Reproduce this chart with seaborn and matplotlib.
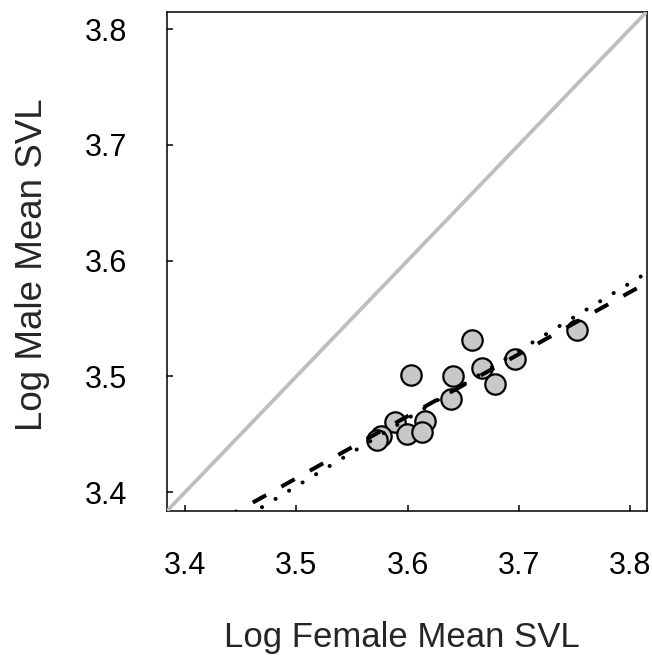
import matplotlib
matplotlib.use('Agg')
import matplotlib.pyplot as plt
import seaborn as sns
import numpy as np
import pandas as pd

# Data
female = [3.7527, 3.6580, 3.6027, 3.6970, 3.6670, 3.6410, 3.6790, 3.6386,
          3.5889, 3.6155, 3.5996, 3.6129, 3.5760, 3.5721]
male = [3.5397, 3.5316, 3.5015, 3.5150, 3.5072, 3.5000, 3.4937, 3.4805,
        3.4610, 3.4612, 3.4503, 3.4517, 3.4489, 3.4454]
ticks = [3.4, 3.5, 3.6, 3.7, 3.8]
tick_labels = ['3.4', '3.5', '3.6', '3.7', '3.8']
fit_slopes = [0.536, 0.585]
fit_intercepts = [1.536, 1.3576]
axis_limits = [3.384, 3.815]

sns.set_style('ticks')
plt.rcParams['font.family'] = ['Liberation Sans', 'DejaVu Sans']
plt.rcParams['lines.scale_dashes'] = False

fig = plt.figure(figsize=(6.52, 6.64), dpi=100)
ax = fig.add_axes([0.2566, 0.2309, 0.7353, 0.7515])

df = pd.DataFrame({'female': female, 'male': male})
sns.scatterplot(data=df, x='female', y='male', s=215, color='#C8C8C8',
                edgecolor='black', linewidth=1.6, ax=ax, zorder=2, legend=False)

line_x = np.array(axis_limits)
sns.lineplot(x=line_x, y=line_x, color='#BEBEBE', lw=2.7, ax=ax, zorder=3)

# dashed fit
sns.lineplot(x=line_x, y=fit_intercepts[0] + fit_slopes[0] * line_x, color='black',
             lw=2.9, linestyle=(0, (11, 12.5)), ax=ax, zorder=4)
# dotted fit
sns.lineplot(x=line_x, y=fit_intercepts[1] + fit_slopes[1] * line_x, color='black',
             lw=2.9, linestyle=(0, (0.1, 11.3)), ax=ax, zorder=4)
ax.lines[-1].set_dash_capstyle('round')

ax.set_xlim(axis_limits)
ax.set_ylim(axis_limits)
ax.set_xticks(ticks)
ax.set_xticklabels(tick_labels)
ax.set_yticks(ticks)
ax.set_yticklabels(tick_labels)

for sp in ax.spines.values():
    sp.set_visible(True)
    sp.set_color('black')
    sp.set_linewidth(1.1)

ax.tick_params(axis='both', direction='in', length=4.3, width=1.1, labelsize=22,
               colors='black')
ax.tick_params(axis='y', pad=29)
ax.tick_params(axis='x', pad=29)

ax.set_xlabel('Log Female Mean SVL', fontsize=25)
ax.set_ylabel('Log Male Mean SVL', fontsize=26.5)
ax.xaxis.set_label_coords(0.4896, -0.222)
ax.yaxis.set_label_coords(-0.244, 0.493)

fig.savefig('out.png', dpi=100, facecolor='white')
